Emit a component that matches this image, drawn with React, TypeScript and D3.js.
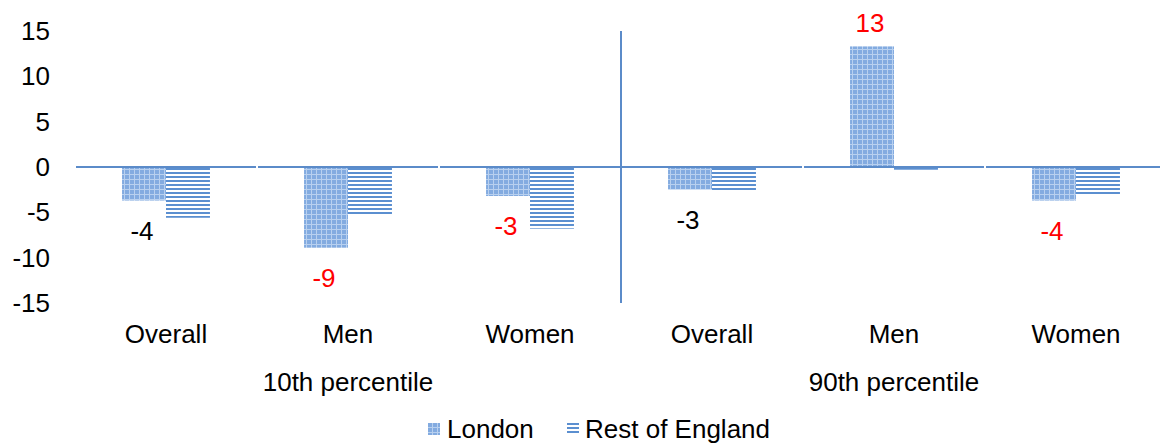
// @ts-nocheck
import * as d3 from "d3";
import { useRef, useEffect } from "react";

const categories = ["Overall", "Men", "Women", "Overall", "Men", "Women"];
const groups = ["10th percentile", "90th percentile"];
const series = ["London", "Rest of England"];
const london = [-3.7, -8.9, -3.2, -2.5, 13.3, -3.7];
const restOfEngland = [-5.6, -5.3, -6.8, -2.7, -0.3, -3.0];
const labels = ["-4", "-9", "-3", "-3", "13", "-4"];
const labelRed = [false, true, true, false, true, true];
const yTicks = [15, 10, 5, 0, -5, -10, -15];

export default function App() {
  const ref = useRef();

  useEffect(() => {
    document.body.style.margin = "0";
    const width = 1160;
    const height = 445;
    const font = "'Liberation Sans', Arial, sans-serif";
    const fs = 26;

    const svg = d3.select(ref.current).attr("width", width).attr("height", height);
    svg.selectAll("*").remove();

    const defs = svg.append("defs");
    const grid = defs
      .append("pattern")
      .attr("id", "pLondon")
      .attr("patternUnits", "userSpaceOnUse")
      .attr("width", 5)
      .attr("height", 5);
    grid.append("rect").attr("width", 5).attr("height", 5).attr("fill", "#83abe0");
    grid.append("rect").attr("x", 4).attr("width", 1).attr("height", 5).attr("fill", "#b8d0ef");
    grid.append("rect").attr("y", 4).attr("width", 5).attr("height", 1).attr("fill", "#b8d0ef");

    const stripes = defs
      .append("pattern")
      .attr("id", "pRest")
      .attr("patternUnits", "userSpaceOnUse")
      .attr("width", 8)
      .attr("height", 4);
    stripes.append("rect").attr("width", 8).attr("height", 4).attr("fill", "#ffffff");
    stripes.append("rect").attr("width", 8).attr("height", 2).attr("fill", "#5b8fd0");

    const fills = ["url(#pLondon)", "url(#pRest)"];

    const y = d3.scaleLinear().domain([-15, 15]).range([303, 31]);
    const x0 = d3
      .scaleBand()
      .domain(d3.range(categories.length))
      .range([75, 75 + 6 * 182]);
    const bw = x0.bandwidth();
    const x1 = d3.scaleBand().domain(series).range([0, bw]).paddingOuter(1.07);

    // y tick labels
    svg
      .append("g")
      .selectAll("text")
      .data(yTicks)
      .enter()
      .append("text")
      .attr("x", 50)
      .attr("y", (d) => y(d))
      .attr("dy", "0.35em")
      .attr("text-anchor", "end")
      .attr("font-family", font)
      .attr("font-size", fs)
      .text((d) => d);

    // bars
    const data = categories.map((c, i) => [london[i], restOfEngland[i]]);
    const cat = svg
      .append("g")
      .selectAll("g")
      .data(data)
      .enter()
      .append("g")
      .attr("transform", (d, i) => "translate(" + x0(i) + ",0)");

    cat
      .selectAll("rect")
      .data((d) => d.map((v, j) => ({ v, j })))
      .enter()
      .append("rect")
      .attr("x", (d) => x1(series[d.j]))
      .attr("width", x1.bandwidth())
      .attr("y", (d) => y(Math.max(0, d.v)))
      .attr("height", (d) => Math.abs(y(d.v) - y(0)))
      .attr("fill", (d) => fills[d.j]);

    // zero line, broken at category boundaries
    svg
      .append("g")
      .selectAll("line")
      .data(categories.map((c, i) => i))
      .enter()
      .append("line")
      .attr("x1", (i) => x0(i) + 1)
      .attr("x2", (i) => x0(i) + bw - 1)
      .attr("y1", y(0))
      .attr("y2", y(0))
      .attr("stroke", "#5b8bc9")
      .attr("stroke-width", 2);

    // vertical separator between percentile groups
    svg
      .append("line")
      .attr("x1", x0(3))
      .attr("x2", x0(3))
      .attr("y1", y(15))
      .attr("y2", y(-15))
      .attr("stroke", "#5b8bc9")
      .attr("stroke-width", 2);

    // data labels
    svg
      .append("g")
      .selectAll("text")
      .data(labels)
      .enter()
      .append("text")
      .attr("x", (d, i) => x0(i) + x1("London") + x1.bandwidth() / 2 - 2)
      .attr("y", (d, i) => (london[i] >= 0 ? y(london[i]) - 24 : y(london[i]) + 30))
      .attr("dy", "0.35em")
      .attr("text-anchor", "middle")
      .attr("font-family", font)
      .attr("font-size", fs)
      .attr("fill", (d, i) => (labelRed[i] ? "#ff0000" : "#000000"))
      .text((d) => d);

    // category labels
    svg
      .append("g")
      .selectAll("text")
      .data(categories)
      .enter()
      .append("text")
      .attr("x", (d, i) => x0(i) + bw / 2)
      .attr("y", 334)
      .attr("dy", "0.35em")
      .attr("text-anchor", "middle")
      .attr("font-family", font)
      .attr("font-size", fs)
      .text((d) => d);

    // group labels
    svg
      .append("g")
      .selectAll("text")
      .data(groups)
      .enter()
      .append("text")
      .attr("x", (d, i) => (x0(i * 3) + x0(i * 3 + 2) + bw) / 2)
      .attr("y", 382)
      .attr("dy", "0.35em")
      .attr("text-anchor", "middle")
      .attr("font-family", font)
      .attr("font-size", fs)
      .text((d) => d);

    // legend (nudged up a little so descenders are not clipped)
    const legendX = [428, 567];
    const legend = svg
      .append("g")
      .selectAll("g")
      .data(series)
      .enter()
      .append("g")
      .attr("transform", (d, i) => "translate(" + legendX[i] + ",423)");
    legend
      .append("rect")
      .attr("width", 12)
      .attr("height", 12)
      .attr("fill", (d, i) => fills[i]);
    legend
      .append("text")
      .attr("x", (d, i) => (i === 0 ? 19 : 18))
      .attr("y", 6)
      .attr("dy", "0.35em")
      .attr("font-family", font)
      .attr("font-size", fs)
      .text((d) => d);
  }, []);

  return <svg ref={ref} style={{ display: "block" }}></svg>;
}
